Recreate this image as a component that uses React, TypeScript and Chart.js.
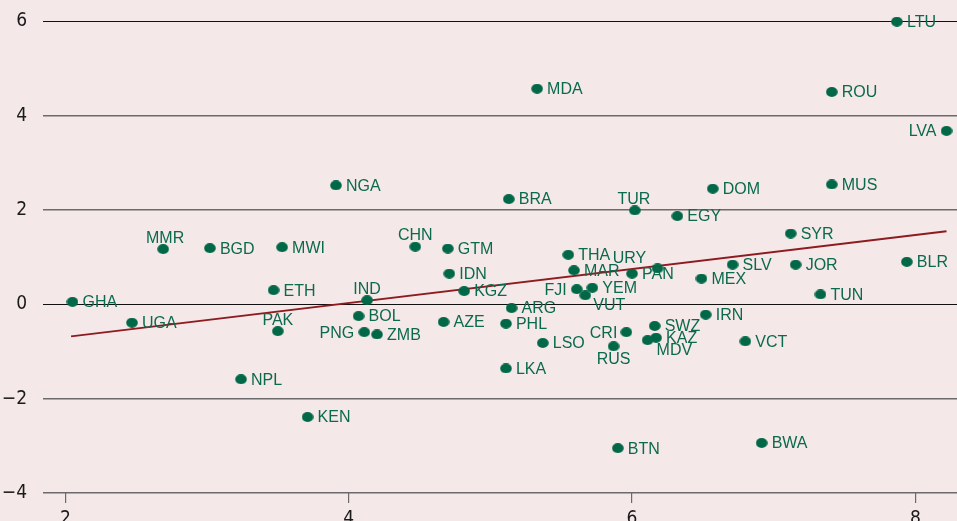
import React, { useEffect, useRef } from "react";
import { Chart, registerables } from "chart.js";

Chart.register(...registerables);

const countries = [
  "LTU", "MDA", "ROU", "LVA", "NGA", "BRA", "DOM", "MUS", "TUR", "EGY",
  "SYR", "MMR", "BGD", "MWI", "CHN", "GTM", "THA", "URY", "SLV", "JOR",
  "BLR", "IDN", "MAR", "PAN", "MEX", "ETH", "KGZ", "FJI", "YEM", "VUT",
  "TUN", "GHA", "IND", "ARG", "BOL", "IRN", "UGA", "AZE", "PHL", "SWZ",
  "PAK", "PNG", "ZMB", "CRI", "KAZ", "MDV", "VCT", "LSO", "RUS", "LKA",
  "NPL", "KEN", "BWA", "BTN",
];
const xValues = [
  7.87, 5.33, 7.41, 8.22, 3.91, 5.13, 6.57, 7.41, 6.02, 6.32,
  7.12, 2.69, 3.02, 3.53, 4.47, 4.70, 5.55, 6.18, 6.71, 7.155,
  7.94, 4.71, 5.59, 6.00, 6.49, 3.47, 4.815, 5.61, 5.72, 5.67,
  7.33, 2.05, 4.13, 5.15, 4.07, 6.52, 2.47, 4.67, 5.11, 6.16,
  3.50, 4.11, 4.20, 5.96, 6.17, 6.11, 6.80, 5.37, 5.87, 5.11,
  3.24, 3.71, 6.915, 5.90,
];
const yValues = [
  5.99, 4.57, 4.50, 3.675, 2.52, 2.23, 2.45, 2.54, 1.99, 1.87,
  1.50, 1.17, 1.19, 1.21, 1.22, 1.18, 1.05, 0.76, 0.84, 0.84,
  0.90, 0.65, 0.72, 0.65, 0.545, 0.30, 0.28, 0.32, 0.35, 0.19,
  0.21, 0.05, 0.085, -0.08, -0.25, -0.22, -0.39, -0.375, -0.41, -0.46,
  -0.57, -0.59, -0.64, -0.59, -0.71, -0.76, -0.785, -0.82, -0.89, -1.36,
  -1.59, -2.39, -2.94, -3.05,
];
const trendX = [2.04, 8.22];
const trendY = [-0.68, 1.55];
const xTicks = [2, 4, 6, 8];
const yTicks = [-4, -2, 0, 2, 4, 6];

// label placement (layout only): [dx, dy, align]
const LABEL_PLACE: Record<string, [number, number, CanvasTextAlign]> = {
  MMR: [2, -12, "center"],
  TUR: [-1, -12, "center"],
  CHN: [0, -12, "center"],
  PAK: [0, -12, "center"],
  IND: [0, -12, "center"],
  URY: [-28, -11, "center"],
  LVA: [-10, 0, "right"],
  FJI: [-10, 0, "right"],
  PNG: [-10, 0, "right"],
  CRI: [-9, 0, "right"],
  RUS: [0, 12, "center"],
  MDV: [9, 9, "left"],
  VUT: [8, 9, "left"],
};

const BG = "#f4e8e8";
const GREEN = "#006747";
const LABEL_GREEN = "#0b6a4d";
const AXIS_FONT = "'Liberation Sans Narrow', 'DejaVu Sans Condensed', 'Liberation Sans', sans-serif";

export default function App() {
  const ref = useRef<HTMLCanvasElement | null>(null);

  useEffect(() => {
    document.body.style.margin = "0";
    document.body.style.background = BG;
    const canvas = ref.current!;

    const dot = document.createElement("canvas");
    dot.width = 12;
    dot.height = 10;
    const dctx = dot.getContext("2d")!;
    dctx.fillStyle = GREEN;
    dctx.beginPath();
    dctx.ellipse(6, 5, 5.8, 4.9, 0, 0, Math.PI * 2);
    dctx.fill();

    const bgPlugin = {
      id: "bg",
      beforeDraw(chart: any) {
        const c = chart.ctx;
        c.save();
        c.fillStyle = BG;
        c.fillRect(0, 0, chart.width, chart.height);
        c.restore();
      },
    };

    const labelPlugin = {
      id: "pointLabels",
      afterDatasetsDraw(chart: any) {
        const c = chart.ctx;
        const meta = chart.getDatasetMeta(0);
        c.save();
        c.font = "16px 'Liberation Sans', Arial, sans-serif";
        c.fillStyle = LABEL_GREEN;
        c.textBaseline = "middle";
        meta.data.forEach((el: any, i: number) => {
          const name = countries[i];
          const p = LABEL_PLACE[name] || [10, 0, "left"];
          c.textAlign = p[2];
          c.fillText(name, el.x + p[0], el.y + p[1] + 1);
        });
        c.restore();
      },
    };

    const chart = new Chart(canvas, {
      type: "scatter",
      data: {
        datasets: [
          {
            data: countries.map((_, i) => ({ x: xValues[i], y: yValues[i] })),
            pointStyle: dot as any,
            pointRadius: 6,
            backgroundColor: GREEN,
            borderColor: GREEN,
          },
          {
            data: trendX.map((x, i) => ({ x, y: trendY[i] })),
            showLine: true,
            borderColor: "#8e1b20",
            borderWidth: 2,
            pointRadius: 0,
            fill: false,
          },
        ],
      },
      options: {
        animation: false,
        responsive: false,
        devicePixelRatio: 1,
        layout: { padding: 0, autoPadding: false },
        plugins: {
          legend: { display: false },
          tooltip: { enabled: false },
        },
        scales: {
          x: {
            type: "linear",
            min: 1.842,
            max: 8.294,
            afterFit(scale: any) {
              scale.height = 28;
              scale.paddingLeft = 0;
              scale.paddingRight = 0;
            },
            afterBuildTicks(scale: any) {
              scale.ticks = xTicks.map((v) => ({ value: v }));
            },
            border: { display: false },
            grid: {
              drawOnChartArea: false,
              drawTicks: true,
              tickLength: 10,
              color: "#6b6b6b",
              lineWidth: 1.2,
            },
            ticks: {
              font: { family: AXIS_FONT, size: 19 },
              color: "#1a1a1a",
              padding: 5,
              maxRotation: 0,
            },
          },
          y: {
            type: "linear",
            min: -4,
            max: 6.45,
            afterFit(scale: any) {
              scale.width = 43;
              scale.paddingTop = 0;
              scale.paddingBottom = 0;
            },
            afterBuildTicks(scale: any) {
              scale.ticks = yTicks.map((v) => ({ value: v }));
            },
            border: { display: false },
            grid: {
              drawTicks: false,
              color: (ctx: any) =>
                ctx.tick && (ctx.tick.value === 0 || ctx.tick.value === 6) ? "#111111" : "#6b6b6b",
              lineWidth: (ctx: any) =>
                ctx.tick && (ctx.tick.value === 0 || ctx.tick.value === 6) ? 1 : 1.4,
            },
            ticks: {
              font: { family: AXIS_FONT, size: 19 },
              color: "#1a1a1a",
              padding: 16,
              callback: (v: any) => (v < 0 ? "\u2212" + Math.abs(v) : String(v)),
            },
          },
        },
      },
      plugins: [bgPlugin, labelPlugin],
    } as any);

    return () => chart.destroy();
  }, []);

  return (
    <div style={{ position: "fixed", left: 0, top: 0, width: 957, height: 521, background: BG }}>
      <canvas ref={ref} width={957} height={521} style={{ display: "block" }} />
    </div>
  );
}
